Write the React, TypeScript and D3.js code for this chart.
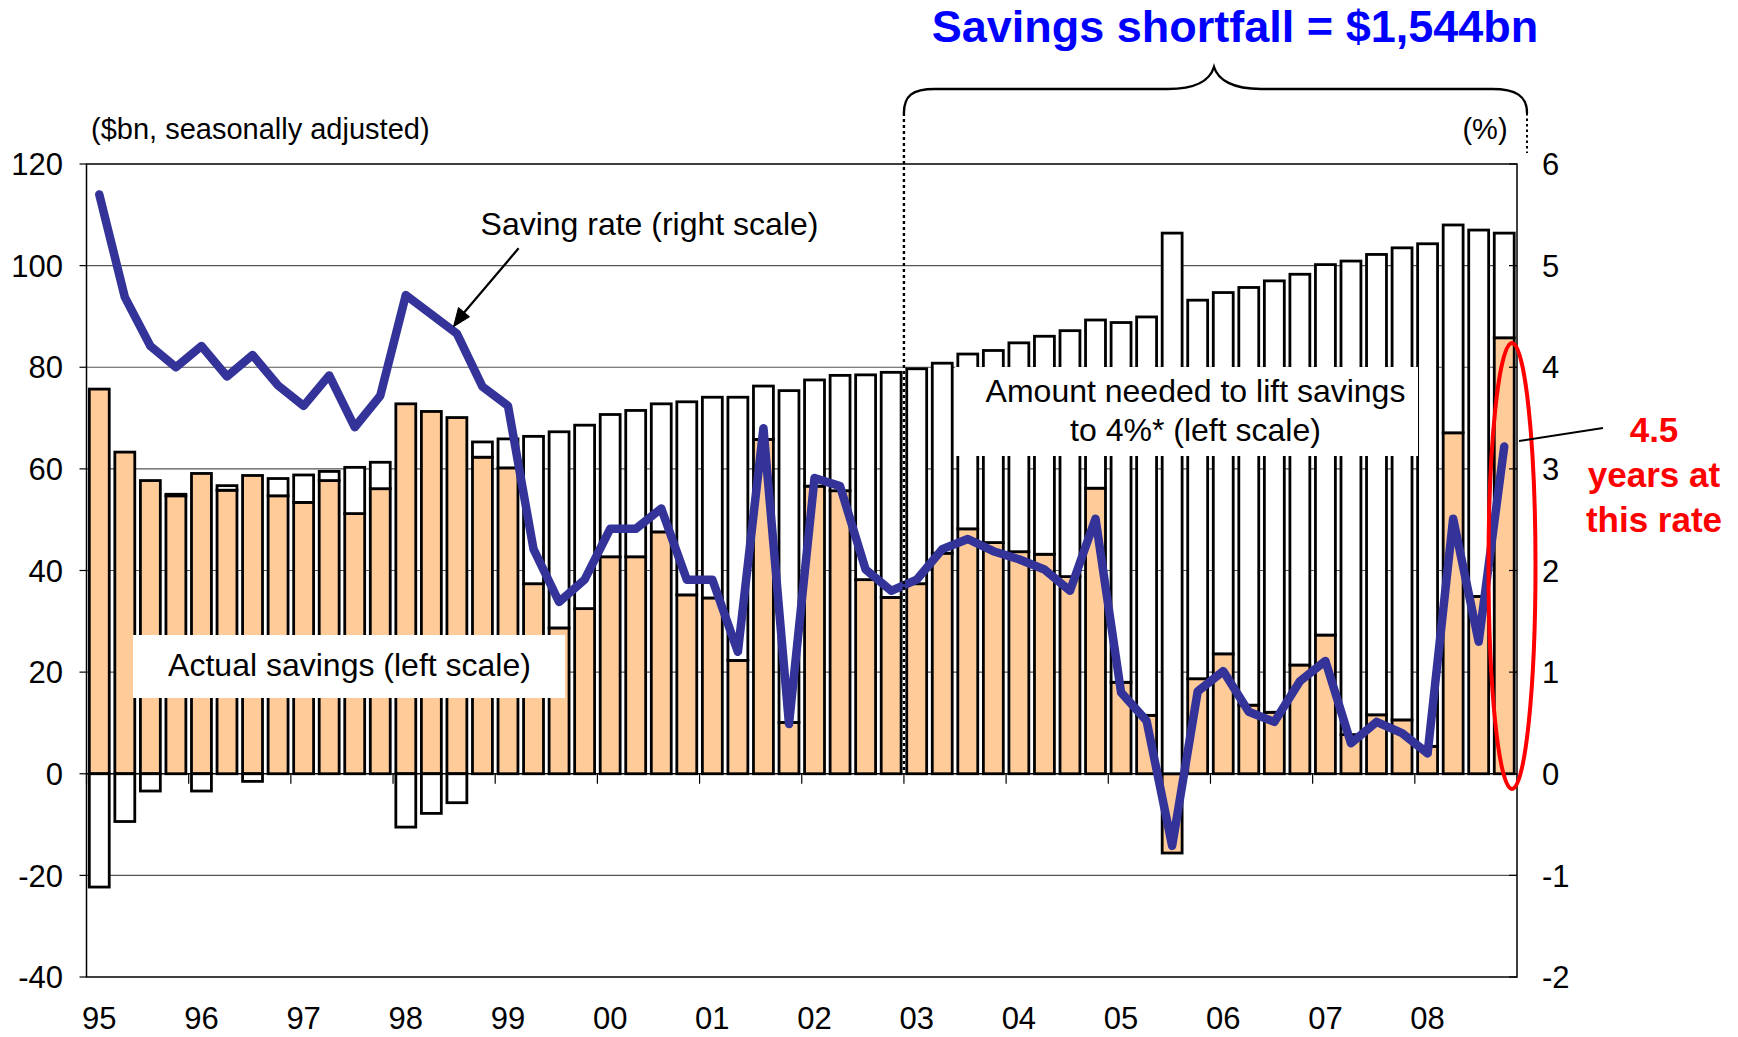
import React from "react";
import * as d3 from "d3";

const years = ["95", "96", "97", "98", "99", "00", "01", "02", "03", "04", "05", "06", "07", "08"];
const quarters = years.flatMap((y) => ["Q1", "Q2", "Q3", "Q4"].map((q) => y + q));

// Actual savings ($bn, left scale)
const actualSavings = [
  75.7, 63.3, 57.7, 54.7, 59.1, 55.8, 58.7, 54.7, 53.4, 57.7, 51.2, 56.1,
  72.8, 71.3, 70.1, 62.3, 60.2, 37.4, 28.7, 32.5, 42.7, 42.7, 47.6, 35.2,
  34.6, 22.3, 65.8, 10.1, 56.6, 55.7, 38.2, 34.7, 37.4, 43.4, 48.2, 45.5,
  43.7, 43.2, 38.8, 56.2, 18.0, 11.5, -15.6, 18.7, 23.6, 13.5, 12.1, 21.4,
  27.3, 7.7, 11.6, 10.6, 5.4, 67.1, 34.9, 85.8,
];

// Amount needed to lift savings to 4% ($bn, left scale), stacked on actual
const shortfall = [
  -22.3, -9.4, -3.4, 0.3, -3.4, 0.9, -1.5, 3.4, 5.4, 1.8, 9.1, 5.2,
  -10.5, -7.8, -5.7, 3.0, 5.7, 29.0, 38.6, 36.1, 28.0, 28.8, 25.2, 38.0,
  39.5, 51.8, 10.5, 65.3, 20.9, 22.7, 40.3, 44.3, 42.3, 37.4, 34.4, 37.8,
  41.1, 42.9, 48.4, 33.1, 70.8, 78.4, 106.4, 74.5, 71.1, 82.2, 84.9, 76.9,
  72.9, 93.2, 90.6, 92.9, 98.9, 40.9, 72.1, 20.6,
];

// Saving rate (%, right scale)
const savingRate = [
  5.70, 4.69, 4.21, 4.00, 4.21, 3.91, 4.12, 3.82, 3.62, 3.92, 3.41, 3.72,
  4.71, 4.52, 4.33, 3.81, 3.62, 2.21, 1.69, 1.91, 2.41, 2.41, 2.61, 1.91,
  1.91, 1.20, 3.40, 0.49, 2.91, 2.83, 2.01, 1.80, 1.91, 2.21, 2.31, 2.19,
  2.11, 2.01, 1.80, 2.51, 0.80, 0.52, -0.71, 0.81, 1.01, 0.61, 0.51, 0.91,
  1.11, 0.30, 0.51, 0.40, 0.20, 2.51, 1.30, 3.22,
];

const leftTicks = [-40, -20, 0, 20, 40, 60, 80, 100, 120];
const rightTicks = [-2, -1, 0, 1, 2, 3, 4, 5, 6];
const gridValues = [-20, 20, 40, 60, 80, 100];

const FONT = "'Liberation Sans', Arial, Helvetica, sans-serif";

export default function App() {
  const W = 1738, H = 1037;
  const L = 86.5, R = 1517, T = 164, B = 977;

  const x = d3.scaleBand<string>().domain(quarters).range([L, R]).paddingInner(0.22).paddingOuter(0.11);
  const step = x.step();
  const bw = x.bandwidth();
  const yL = d3.scaleLinear().domain([-40, 120]).range([B, T]);
  const yR = d3.scaleLinear().domain([-2, 6]).range([B, T]);

  const rows = quarters.map((q, i) => ({ q, actual: actualSavings[i], short: shortfall[i] }));
  const stack = d3.stack<any>().keys(["actual", "short"]).offset(d3.stackOffsetDiverging);
  const series = stack(rows);
  const fills = ["#FFCC99", "#FFFFFF"];

  const line = d3
    .line<number>()
    .x((_, i) => (x(quarters[i]) as number) + bw / 2)
    .y((d) => yR(d));

  const yearStart = (k: number) => L + 4 * k * step;
  const dottedX = (x(quarters[32]) as number) - (step - bw) / 2;

  return (
    <svg width={W} height={H} style={{ position: "absolute", left: 0, top: 0, background: "#fff" }} fontFamily={FONT}>
      {/* gridlines */}
      {gridValues.map((v) => (
        <line key={v} x1={L} x2={R} y1={yL(v)} y2={yL(v)} stroke="#555" strokeWidth={1.2} />
      ))}
      {/* bars */}
      {series.map((s, si) => (
        <g key={si}>
          {s.map((d, i) => (
            <rect
              key={i}
              x={x(quarters[i])}
              width={bw}
              y={yL(Math.max(d[0], d[1]))}
              height={Math.abs(yL(d[0]) - yL(d[1]))}
              fill={fills[si]}
              stroke="#000"
              strokeWidth={2.8}
            />
          ))}
        </g>
      ))}
      {/* zero line */}
      <line x1={L} x2={R} y1={yL(0)} y2={yL(0)} stroke="#000" strokeWidth={1.5} />
      {/* x ticks */}
      {years.map((y, k) => (
        <line key={y} x1={yearStart(k)} x2={yearStart(k)} y1={yL(0)} y2={yL(0) + 10} stroke="#000" strokeWidth={1.2} />
      ))}
      {/* frame */}
      <rect x={L} y={T} width={R - L} height={B - T} fill="none" stroke="#000" strokeWidth={1.5} />
      {/* left ticks */}
      {leftTicks.map((v) => (
        <g key={v}>
          <line x1={L - 7} x2={L} y1={yL(v)} y2={yL(v)} stroke="#000" strokeWidth={1.2} />
          <text x={63} y={yL(v)} dy="0.36em" textAnchor="end" fontSize={31} fill="#000">{v}</text>
        </g>
      ))}
      {rightTicks.map((v) => (
        <g key={v}>
          <line x1={R - 8} x2={R} y1={yR(v)} y2={yR(v)} stroke="#000" strokeWidth={1.2} />
          <text x={1542} y={yR(v)} dy="0.36em" textAnchor="start" fontSize={31} fill="#000">{v}</text>
        </g>
      ))}
      {years.map((y, k) => (
        <text key={y} x={(x(quarters[4 * k]) as number) + bw / 2} y={1029} textAnchor="middle" fontSize={31} fill="#000">{y}</text>
      ))}

      {/* annotation boxes */}
      <rect x={133} y={635} width={432} height={63} fill="#fff" />
      <text x={349.5} y={676} textAnchor="middle" fontSize={32} fill="#000">Actual savings (left scale)</text>
      <rect x={955} y={367} width={463} height={89} fill="#fff" />
      <text x={1195.5} y={402} textAnchor="middle" fontSize={32} fill="#000">Amount needed to lift savings</text>
      <text x={1195.5} y={441} textAnchor="middle" fontSize={32} fill="#000">to 4%* (left scale)</text>

      {/* saving rate line */}
      <path d={line(savingRate) || ""} fill="none" stroke="#333399" strokeWidth={8.5} strokeLinejoin="round" strokeLinecap="round" />

      {/* dotted lines and brace */}
      <line x1={dottedX} x2={dottedX} y1={113} y2={yL(0)} stroke="#000" strokeWidth={2.4} strokeDasharray="3,3" />
      <line x1={1527} x2={1527} y1={113} y2={153} stroke="#000" strokeWidth={2} strokeDasharray="2.5,3" />
      <path
        d={`M ${dottedX},113 C ${dottedX},96 912,89 935,89 L 1168,89 C 1196,89 1210,80 1214,67 C 1218,80 1233,89 1261,89 L 1492,89 C 1516,89 1527,96 1527,113`}
        fill="none"
        stroke="#000"
        strokeWidth={2.4}
      />
      <text x={1235} y={42} textAnchor="middle" fontSize={45} fontWeight="bold" fill="#0000FF">Savings shortfall = $1,544bn</text>

      {/* axis titles */}
      <text x={91} y={139} fontSize={29} fill="#000">($bn, seasonally adjusted)</text>
      <text x={1485} y={139} textAnchor="middle" fontSize={29} fill="#000">(%)</text>

      {/* saving rate label + arrow */}
      <text x={649.5} y={235} textAnchor="middle" fontSize={32} fill="#000">Saving rate (right scale)</text>
      <line x1={518.6} y1={248.3} x2={462} y2={315} stroke="#000" strokeWidth={2.2} />
      <polygon points="453.5,326.7 458.5,307.5 469.5,316.8" fill="#000" stroke="#000" strokeWidth={1} />

      {/* red ellipse and label */}
      <ellipse cx={1512} cy={566} rx={23.5} ry={223} fill="none" stroke="#FF0000" strokeWidth={4} />
      <line x1={1603} y1={428} x2={1519} y2={441} stroke="#000" strokeWidth={2} />
      <text x={1654} y={442} textAnchor="middle" fontSize={35} fontWeight="bold" fill="#FF0000">4.5</text>
      <text x={1654} y={487} textAnchor="middle" fontSize={35} fontWeight="bold" fill="#FF0000">years at</text>
      <text x={1654} y={532} textAnchor="middle" fontSize={35} fontWeight="bold" fill="#FF0000">this rate</text>
    </svg>
  );
}
